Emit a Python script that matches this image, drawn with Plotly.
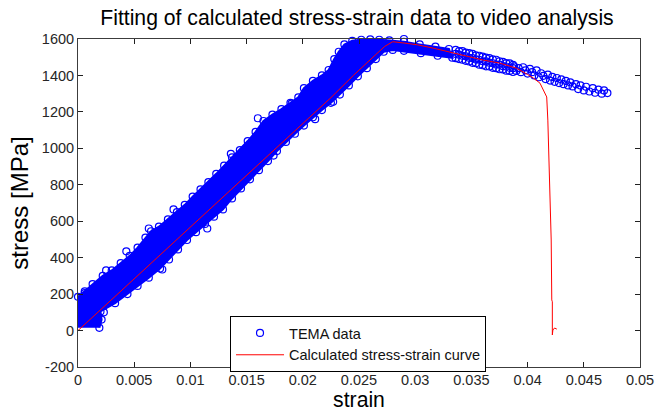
import plotly.graph_objects as go

# ---- TEMA video-analysis measurements (strain, stress in MPa) ----
# outer envelope of the dense rising branch, left/upper side
upper_strain = [-0.0001, -0.0001, 0.0000, 0.0006, 0.0013, 0.0022, 0.0030, 0.0038, 0.0046,
                0.0053, 0.0060, 0.0065, 0.0072, 0.0080, 0.0088, 0.0095, 0.0102, 0.0109,
                0.0116, 0.0123, 0.0130, 0.0137, 0.0144, 0.0151, 0.0158, 0.0165, 0.0173,
                0.0181, 0.0189, 0.0196, 0.0201, 0.0209, 0.0217, 0.0223, 0.0228, 0.0232,
                0.0237, 0.0244, 0.0252, 0.0260, 0.0268, 0.0277, 0.0290, 0.0304, 0.0318,
                0.0330]
upper_stress = [15, 140, 185, 215, 255, 300, 330, 370, 410,
                455, 510, 545, 570, 610, 650, 690, 735, 775,
                815, 860, 905, 950, 990, 1040, 1090, 1150, 1185,
                1215, 1250, 1280, 1330, 1370, 1400, 1430, 1490, 1530,
                1570, 1590, 1596, 1598, 1596, 1592, 1585, 1570, 1558,
                1545]

# outer envelope of the dense branch, right/lower side
lower_strain = [0.0019, 0.0021, 0.0020, 0.0033, 0.0044, 0.0053, 0.0063, 0.0073, 0.0081,
                0.0089, 0.0097, 0.0105, 0.0113, 0.0121, 0.0129, 0.0137, 0.0145, 0.0153,
                0.0161, 0.0169, 0.0177, 0.0185, 0.0193, 0.0201, 0.0209, 0.0217, 0.0225,
                0.0233, 0.0241, 0.0249, 0.0257, 0.0265, 0.0272, 0.0280, 0.0290, 0.0305,
                0.0320, 0.0333]
lower_stress = [15, 60, 105, 150, 200, 245, 290, 340, 390,
                445, 497, 540, 585, 625, 665, 725, 780, 830,
                880, 930, 985, 1035, 1080, 1125, 1170, 1210, 1250,
                1295, 1345, 1395, 1440, 1490, 1530, 1540, 1535, 1522,
                1508, 1497]

# scattered readings that stick out of the dense band
stray_strain = [0.0006, 0.0023, 0.0025, 0.0043, 0.0063, 0.0075, 0.0085, 0.0115, 0.0136,
                0.0160, 0.0174, 0.0190, 0.0211, 0.0227, 0.0240, 0.0250, 0.0290]
stray_stress = [205, 100, 330, 435, 560, 335, 665, 560, 970,
                1165, 960, 1245, 1160, 1255, 1612, 1605, 1600]

# softening branch, still dense
soft_strain = [0.0336, 0.0339, 0.0342, 0.0345, 0.0348, 0.0351, 0.0354, 0.0357, 0.0360,
               0.0363, 0.0366, 0.0369, 0.0372, 0.0375, 0.0378, 0.0381, 0.0384, 0.0387,
               0.0336, 0.0339, 0.0342, 0.0345, 0.0348, 0.0351, 0.0354, 0.0357, 0.0360,
               0.0363, 0.0366, 0.0369, 0.0372, 0.0375, 0.0378, 0.0381, 0.0384, 0.0387,
               0.0336, 0.0339, 0.0342, 0.0345, 0.0348, 0.0351, 0.0354, 0.0357, 0.0360,
               0.0363, 0.0366, 0.0369, 0.0372, 0.0375, 0.0378, 0.0381, 0.0384, 0.0387]
soft_stress = [1540, 1534, 1533, 1525, 1522, 1518, 1510, 1508, 1503,
               1498, 1495, 1488, 1486, 1478, 1475, 1468, 1466, 1458,
               1518, 1514, 1508, 1505, 1497, 1495, 1488, 1486, 1478,
               1477, 1470, 1467, 1460, 1459, 1451, 1449, 1442, 1440,
               1495, 1490, 1486, 1480, 1477, 1469, 1467, 1459, 1456,
               1450, 1449, 1442, 1440, 1434, 1433, 1426, 1425, 1419]

# sparser end of the record
tail_strain = [0.0388, 0.0390, 0.0392, 0.0394, 0.0396, 0.0398, 0.0400, 0.0402, 0.0404,
               0.0406, 0.0408, 0.0410, 0.0412, 0.0414, 0.0416, 0.0418, 0.0420, 0.0422,
               0.0424, 0.0426, 0.0428, 0.0430, 0.0432, 0.0434, 0.0436, 0.0438, 0.0440,
               0.0443, 0.0445, 0.0447, 0.0450, 0.0452, 0.0455, 0.0458, 0.0460, 0.0463,
               0.0466, 0.0468, 0.0471]
tail_stress = [1450, 1425, 1440, 1418, 1445, 1428, 1410, 1436, 1418,
               1400, 1428, 1390, 1412, 1398, 1380, 1405, 1372, 1392,
               1365, 1386, 1358, 1378, 1352, 1370, 1345, 1362, 1340,
               1352, 1325, 1345, 1318, 1338, 1312, 1330, 1305, 1322,
               1300, 1318, 1303]

# ---- calculated stress-strain curve ----
calc_strain = [0.0, 0.0025, 0.005, 0.0075, 0.010, 0.0125, 0.015, 0.0175, 0.020, 0.0225,
               0.0245, 0.0255, 0.0265, 0.0273, 0.0280, 0.0290, 0.0302, 0.0316, 0.0330,
               0.0345, 0.0360, 0.0375, 0.0390, 0.0400, 0.0405, 0.0411, 0.0415, 0.0417,
               0.0418, 0.0419, 0.0420, 0.0421, 0.04215, 0.0422, 0.0422, 0.04225, 0.0424,
               0.0426]
calc_stress = [0, 142, 284, 426, 568, 710, 852, 994, 1136, 1278,
               1400, 1460, 1515, 1560, 1585, 1578, 1568, 1550, 1528,
               1505, 1485, 1468, 1440, 1405, 1386, 1358, 1303, 1282,
               1155, 936, 826, 497, 168, 158, -24, 3, 14,
               8]

x_ticks = [0, 0.005, 0.01, 0.015, 0.02, 0.025, 0.03, 0.035, 0.04, 0.045, 0.05]
x_tick_text = ["0", "0.005", "0.01", "0.015", "0.02", "0.025", "0.03", "0.035",
               "0.04", "0.045", "0.05"]
y_ticks = [-200, 0, 200, 400, 600, 800, 1000, 1200, 1400, 1600]
y_tick_text = [str(v) for v in y_ticks]

FONT = "Arial, Liberation Sans, sans-serif"
BLUE = "#0000ff"
RED = "#ff0000"

fig = go.Figure()

# dense core of the measured band (overlapping markers)
fig.add_trace(go.Scatter(
    x=upper_strain + lower_strain[::-1],
    y=upper_stress + lower_stress[::-1],
    mode="lines", fill="toself", fillcolor=BLUE,
    line=dict(color=BLUE, width=2), showlegend=False, hoverinfo="skip",
))

fig.add_trace(go.Scatter(
    x=upper_strain + lower_strain + stray_strain + soft_strain + tail_strain,
    y=upper_stress + lower_stress + stray_stress + soft_stress + tail_stress,
    mode="markers", name="TEMA data", cliponaxis=False,
    marker=dict(symbol="circle-open", size=7, color=BLUE, line=dict(width=1.2, color=BLUE)),
))

fig.add_trace(go.Scatter(
    x=calc_strain, y=calc_stress, mode="lines",
    name="Calculated stress-strain curve",
    line=dict(color=RED, width=1),
))

axis_common = dict(
    showgrid=False, zeroline=False, showline=True, linecolor="#3c3c3c", linewidth=1,
    mirror="ticks", ticks="inside", ticklen=5, tickcolor="#202020", tickwidth=1,
    tickfont=dict(family=FONT, size=14.5, color="#262626"), automargin=False,
)

fig.update_layout(
    width=655, height=415,
    margin=dict(l=78, r=15, t=39, b=48),
    paper_bgcolor="white", plot_bgcolor="white",
    title=dict(text="Fitting of calculated stress-strain data to video analysis",
               font=dict(family=FONT, size=21.2, color="black"),
               x=0.545, xanchor="center", y=0.957, yanchor="middle"),
    xaxis=dict(range=[0, 0.05], tickvals=x_ticks, ticktext=x_tick_text,
               title=dict(text="strain", font=dict(family=FONT, size=21.2, color="black"),
                          standoff=2),
               **axis_common),
    yaxis=dict(range=[-200, 1600], tickvals=y_ticks, ticktext=y_tick_text,
               title=dict(text="stress [MPa]", font=dict(family=FONT, size=24, color="black"),
                          standoff=6),
               **axis_common),
    legend=dict(x=0.2705, y=0.1555, xanchor="left", yanchor="top",
                bgcolor="white", bordercolor="black", borderwidth=1,
                font=dict(family=FONT, size=14.5, color="#111111"),
                itemwidth=48, tracegroupgap=0),
    showlegend=True,
)

fig.write_html("out.html")
